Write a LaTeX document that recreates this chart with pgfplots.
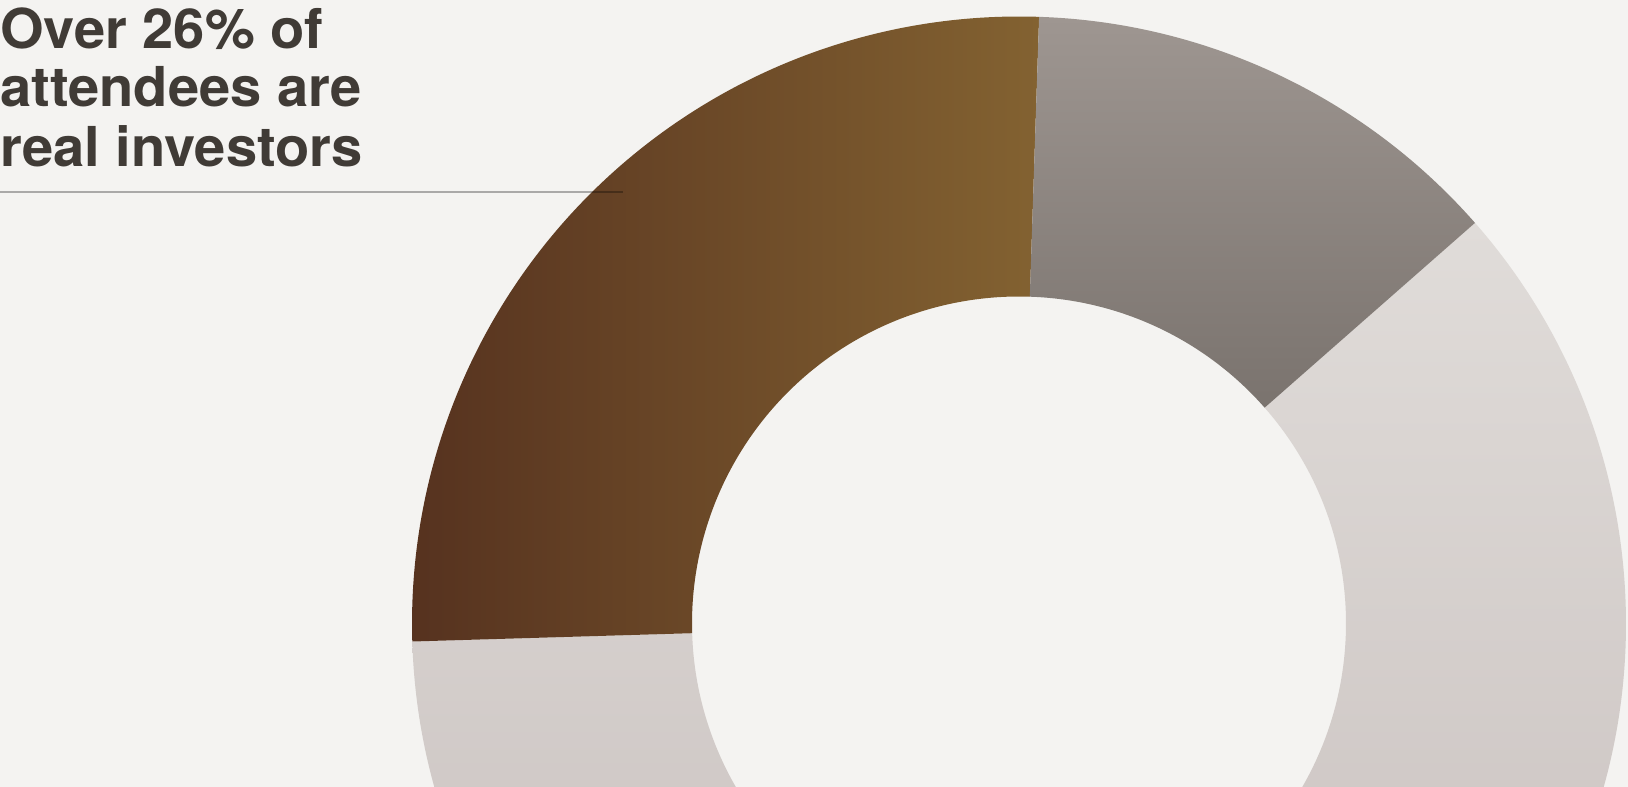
\documentclass[border=0pt]{standalone}
\usepackage{fontspec}
\setmainfont[FakeStretch=1.02]{TeX Gyre Heros}
\usepackage{pgfplots}
\pgfplotsset{compat=1.18}

\definecolor{bg}{HTML}{F4F3F1}
\definecolor{ink}{HTML}{403B36}
\definecolor{brownL}{HTML}{56321F}
\definecolor{brownR}{HTML}{836231}
\definecolor{greyT}{HTML}{9E9691}
\definecolor{greyB}{HTML}{7A736E}
\definecolor{lightT}{HTML}{E0DCD9}
\definecolor{lightB}{HTML}{C4BBB9}

% shares in percent, counter-clockwise from the start angle
\def\startangle{88.1}
\def\shareInvestors{26}
\def\shareLightA{26}
\def\shareLightB{35}
\def\shareGrey{13}
\def\Rout{607bp}
\def\Rin{327bp}

\pgfmathsetmacro\aA{\startangle}
\pgfmathsetmacro\aB{\aA+3.6*\shareInvestors}
\pgfmathsetmacro\aC{\aB+3.6*\shareLightA}
\pgfmathsetmacro\aD{\aC+3.6*\shareLightB}
\pgfmathsetmacro\aE{\aD+3.6*\shareGrey}

\newcommand\ringpath[2]{%
  ([shift={(#1:\Rout)}]C) arc[start angle=#1, end angle=#2, radius=\Rout]
  -- ([shift={(#2:\Rin)}]C) arc[start angle=#2, end angle=#1, radius=\Rin] -- cycle}

\begin{document}
\begin{tikzpicture}
\begin{axis}[
  x=1bp, y=1bp,
  xmin=0, xmax=1628, ymin=0, ymax=787,
  hide axis,
  clip=true,
]
\fill[bg] (axis cs:0,0) rectangle (axis cs:1628,787);
\coordinate (C) at (axis cs:1019,163.5);
% light segments (the rest of the attendees)
\shade[top color=lightT, bottom color=lightB] \ringpath{\aB}{\aD};
% real investors
\shade[left color=brownL, right color=brownR] \ringpath{\aA}{\aB};
% grey segment
\shade[top color=greyT, bottom color=greyB] \ringpath{\aD}{\aE};
% rule under the headline
\addplot[black, opacity=0.3, line width=2bp] coordinates {(0,594.7) (623,594.7)};
\node[anchor=base west, inner sep=0pt, text=ink, font=\fontsize{55bp}{60bp}\selectfont\bfseries]
  at (axis cs:0,738.5) {Over 26\% of};
\node[anchor=base west, inner sep=0pt, text=ink, font=\fontsize{55bp}{60bp}\selectfont\bfseries]
  at (axis cs:0,680) {attendees are};
\node[anchor=base west, inner sep=0pt, text=ink, font=\fontsize{55bp}{60bp}\selectfont\bfseries]
  at (axis cs:0,620.5) {real investors};
\end{axis}
\pgfresetboundingbox
\path (0,0) rectangle (1628bp,787bp);
\end{tikzpicture}
\end{document}
